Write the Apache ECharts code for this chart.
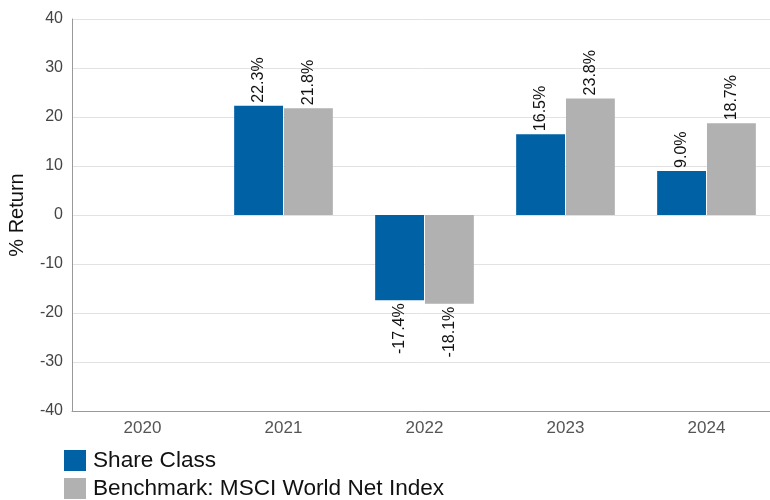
<!DOCTYPE html>
<html>
<head>
<meta charset="utf-8">
<script src="https://cdn.jsdelivr.net/npm/echarts@6/dist/echarts.min.js"></script>
<style>html,body{margin:0;padding:0;background:#fff}#c{width:770px;height:500px}</style>
</head>
<body>
<div id="c"></div>
<script>
const categories = ['2020', '2021', '2022', '2023', '2024'];
const shareClass = [null, 22.3, -17.4, 16.5, 9.0];
const benchmark = [null, 21.8, -18.1, 23.8, 18.7];
const seriesNames = ['Share Class', 'Benchmark: MSCI World Net Index'];
const yTicks = { min: -40, max: 40, interval: 10 };

const font = 'Liberation Sans, Arial, sans-serif';
function items(arr) {
  return arr.map(v => v === null ? '-' : {
    value: v,
    label: { align: v >= 0 ? 'left' : 'right' }
  });
}
const labelCfg = {
  show: true, position: 'outside', rotate: 90, distance: 3,
  verticalAlign: 'middle', color: '#111', fontSize: 16, fontFamily: font,
  formatter: p => p.value.toFixed(1) + '%'
};
const chart = echarts.init(document.getElementById('c'), null, { renderer: 'canvas' });
chart.setOption({
  animation: false,
  textStyle: { fontFamily: font },
  grid: { left: 72, top: 19, width: 705, height: 392, containLabel: false, outerBoundsMode: 'none' },
  legend: {
    orient: 'vertical', left: 64, top: 449, padding: 0, itemWidth: 22, itemHeight: 21, itemGap: 5,
    icon: 'rect', textStyle: { fontSize: 22.6, color: '#111', fontFamily: font, padding: [0, 0, 0, 2] },
    data: seriesNames
  },
  xAxis: {
    type: 'category', data: categories,
    axisLine: { onZero: false, lineStyle: { color: '#999' } },
    axisTick: { show: false },
    axisLabel: { color: '#555', fontSize: 17, margin: 9, fontFamily: font }
  },
  yAxis: {
    type: 'value', min: yTicks.min, max: yTicks.max, interval: yTicks.interval,
    name: '% Return', nameLocation: 'middle', nameGap: 45,
    nameTextStyle: { fontSize: 20, color: '#111', fontFamily: font },
    axisLine: { show: true, lineStyle: { color: '#999' } },
    axisTick: { show: false },
    splitLine: { lineStyle: { color: '#e2e2e2' } },
    axisLabel: { color: '#444', fontSize: 16, margin: 9, fontFamily: font }
  },
  series: [
    { name: seriesNames[0], type: 'bar', data: items(shareClass), barGap: '2%', barCategoryGap: '30%',
      itemStyle: { color: '#0062A5' }, label: labelCfg },
    { name: seriesNames[1], type: 'bar', data: items(benchmark), barGap: '2%', barCategoryGap: '30%',
      itemStyle: { color: '#B1B1B1' }, label: labelCfg }
  ]
});
</script>
</body>
</html>
